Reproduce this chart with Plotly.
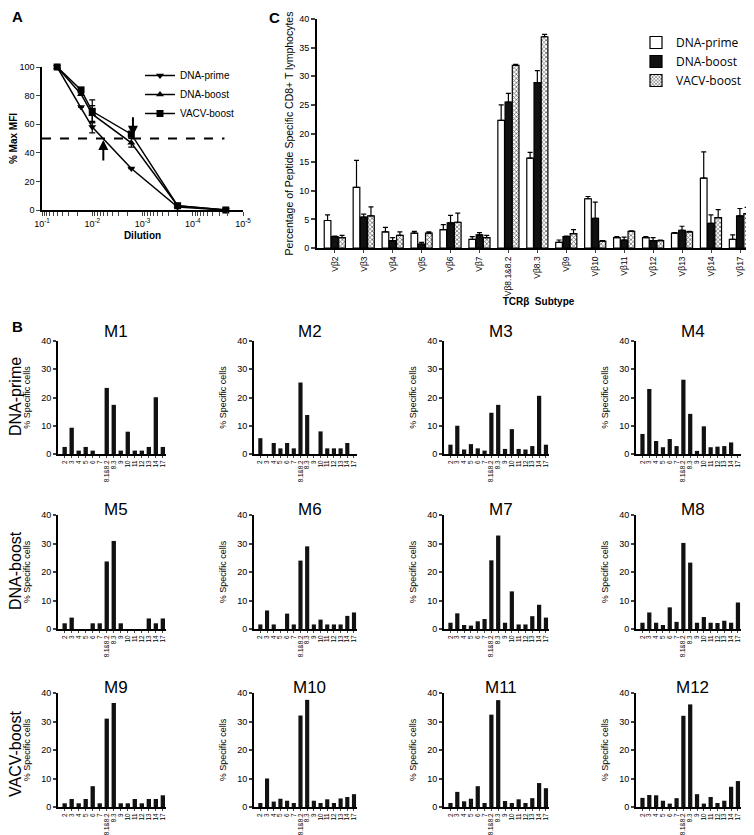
import plotly.graph_objects as go

W, H = 754, 835
FONT = "Liberation Sans"

# ---------------- Panel A data ----------------
dilution = [0.05, 0.0167, 0.01, 0.00167, 0.0002, 0.000022]
a_prime = [100, 72, 58, 29, 2, 0]
a_boost = [100, 81, 67, 47, 3, 0]
a_vacv = [100, 84, 69, 53, 3, 0]
a_prime_err = [0, 0, 4, 0, 0, 0]
a_boost_err = [0, 0, 6, 3, 0, 0]
a_vacv_err = [0, 0, 8, 2, 0, 0]
half_max_line_x = [0.1, 0.0000234]
half_max_line_y = [50, 50]
a_decades = [1, 2, 3, 4, 5]

# ---------------- Panel C data ----------------
c_categories = ["Vβ2", "Vβ3", "Vβ4", "Vβ5", "Vβ6", "Vβ7", "Vβ8.1&8.2", "Vβ8.3",
                "Vβ9", "Vβ10", "Vβ11", "Vβ12", "Vβ13", "Vβ14", "Vβ17"]
c_prime = [4.8, 10.6, 2.8, 2.6, 3.2, 1.5, 22.3, 15.7, 1.0, 8.6, 1.8, 1.8, 2.6, 12.2, 1.5]
c_prime_err = [1.0, 4.7, 0.8, 0.3, 0.9, 0.5, 2.7, 1.0, 0.4, 0.4, 0.2, 0.2, 0.1, 4.6, 0.8]
c_boost = [2.0, 5.4, 1.3, 0.7, 4.4, 2.3, 25.5, 28.9, 2.0, 5.2, 1.4, 1.3, 3.1, 4.3, 5.6]
c_boost_err = [0.1, 0.5, 0.5, 0.3, 1.3, 0.4, 1.5, 2.1, 0.1, 2.8, 0.5, 0.5, 0.7, 1.5, 1.3]
c_vacv = [1.8, 5.6, 2.2, 2.6, 4.5, 1.8, 31.9, 36.9, 2.5, 1.2, 2.9, 1.3, 2.8, 5.3, 6.0]
c_vacv_err = [0.4, 1.6, 0.6, 0.2, 1.6, 0.4, 0.2, 0.4, 0.7, 0.1, 0.1, 0.1, 0.1, 1.4, 1.1]

# ---------------- Panel B data ----------------
b_categories = ["2", "3", "4", "5", "6", "7", "8.1&8.2", "8.3", "9", "10", "11", "12", "13", "14", "17"]
M1 = [2.5, 9.3, 1.2, 2.5, 1.2, 0, 23.4, 17.4, 1.2, 7.9, 1.2, 1.2, 2.5, 20.1, 2.5]
M2 = [5.6, 0, 3.9, 2.0, 3.9, 2.0, 25.3, 13.8, 0, 8.0, 2.0, 2.0, 2.0, 3.9, 0]
M3 = [3.3, 10.0, 1.6, 3.5, 2.0, 1.2, 14.6, 17.4, 1.8, 8.8, 1.8, 1.6, 2.8, 20.6, 3.3]
M4 = [7.1, 23.0, 4.6, 2.4, 5.3, 2.8, 26.3, 14.2, 1.1, 9.8, 2.4, 2.6, 2.8, 4.1, 0]
M5 = [2.0, 4.0, 0, 0, 2.0, 2.0, 23.7, 30.9, 2.0, 0, 0, 0, 3.7, 2.0, 3.7]
M6 = [1.6, 6.5, 1.6, 0, 5.4, 1.6, 24.0, 29.0, 1.6, 3.3, 1.6, 1.6, 1.6, 4.6, 5.8]
M7 = [2.2, 5.5, 1.4, 1.2, 2.7, 3.5, 24.1, 32.8, 2.2, 13.2, 1.6, 1.6, 4.5, 8.5, 4.0]
M8 = [2.2, 5.8, 2.2, 1.4, 7.6, 2.5, 30.2, 23.3, 2.2, 4.2, 2.2, 2.1, 2.9, 2.2, 9.3]
M9 = [1.3, 2.8, 1.3, 2.8, 7.3, 1.3, 31.0, 36.5, 1.3, 1.3, 2.8, 1.3, 2.8, 2.8, 4.1]
M10 = [1.4, 10.0, 1.9, 2.9, 2.2, 1.4, 32.1, 37.6, 2.2, 1.4, 2.7, 1.4, 3.0, 3.5, 4.5]
M11 = [1.4, 5.3, 2.0, 2.9, 7.3, 1.4, 32.4, 37.5, 2.1, 1.4, 2.7, 1.4, 3.1, 8.4, 6.6]
M12 = [3.2, 4.2, 4.1, 2.2, 1.2, 3.1, 32.0, 36.0, 4.5, 1.2, 3.5, 1.4, 2.2, 7.1, 9.1]
b_panels = [M1, M2, M3, M4, M5, M6, M7, M8, M9, M10, M11, M12]
b_titles = ["M1", "M2", "M3", "M4", "M5", "M6", "M7", "M8", "M9", "M10", "M11", "M12"]
row_labels = ["DNA-prime", "DNA-boost", "VACV-boost"]


def xd(a, b):
    return [a / W, b / W]


def yd(top, bottom):
    return [1 - bottom / H, 1 - top / H]


fig = go.Figure()

# ---------- Panel A ----------
for name, vals, err, sym in [("DNA-prime", a_prime, a_prime_err, "triangle-down"),
                             ("DNA-boost", a_boost, a_boost_err, "triangle-up"),
                             ("VACV-boost", a_vacv, a_vacv_err, "square")]:
    fig.add_trace(go.Scatter(
        x=dilution, y=vals, name=name, mode="lines+markers",
        line=dict(color="black", width=1.5),
        marker=dict(symbol=sym, size=7, color="black"),
        error_y=dict(type="data", array=err, color="black", thickness=1.2, width=3),
        cliponaxis=False, xaxis="x", yaxis="y", legend="legend"))
fig.add_trace(go.Scatter(x=half_max_line_x, y=half_max_line_y, mode="lines",
                         line=dict(color="black", width=2, dash="dash"),
                         showlegend=False, xaxis="x", yaxis="y", hoverinfo="skip"))

# ---------- Panel C ----------
fig.add_trace(go.Bar(x=c_categories, y=c_prime, name="DNA-prime", width=0.23, offset=-0.37,
                     marker=dict(color="white", line=dict(color="black", width=1.2)),
                     error_y=dict(type="data", array=c_prime_err, arrayminus=[0] * 15,
                                  symmetric=False, color="black", thickness=1.2, width=2.5),
                     xaxis="x2", yaxis="y2", legend="legend2"))
fig.add_trace(go.Bar(x=c_categories, y=c_boost, name="DNA-boost", width=0.23, offset=-0.12,
                     marker=dict(color="#111111", line=dict(color="black", width=1.2)),
                     error_y=dict(type="data", array=c_boost_err, arrayminus=[0] * 15,
                                  symmetric=False, color="black", thickness=1.2, width=2.5),
                     xaxis="x2", yaxis="y2", legend="legend2"))
fig.add_trace(go.Bar(x=c_categories, y=c_vacv, name="VACV-boost", width=0.23, offset=0.13,
                     marker=dict(color="white", line=dict(color="black", width=1.2),
                                 pattern=dict(shape="x", fgcolor="#555555", bgcolor="white",
                                              size=3, solidity=0.4)),
                     error_y=dict(type="data", array=c_vacv_err, arrayminus=[0] * 15,
                                  symmetric=False, color="black", thickness=1.2, width=2.5),
                     xaxis="x2", yaxis="y2", legend="legend2"))

# ---------- Panel B ----------
col_px = [(50, 158), (246, 349), (436, 541), (628, 733)]
row_px = [(333, 446), (507, 621), (685, 799)]
title_off = [10, 6, 6]
for i, vals in enumerate(b_panels):
    n = i + 3
    fig.add_trace(go.Bar(x=b_categories, y=vals, width=0.62,
                         marker=dict(color="#111111", line=dict(width=0)),
                         showlegend=False, xaxis=f"x{n}", yaxis=f"y{n}"))

layout = dict(
    template="none",
    width=W, height=H, margin=dict(l=0, r=0, t=0, b=0, pad=0),
    paper_bgcolor="white", plot_bgcolor="white",
    font=dict(family=FONT, color="black"),
    barmode="overlay",
)

# log dilution axis ticks: labelled decades plus unlabelled 2..9 sub-ticks
a_tickvals, a_ticktext = [], []
for d in a_decades:
    a_tickvals.append(10.0 ** (-d))
    a_ticktext.append(f"10<sup>-{d}</sup>")
    if d < a_decades[-1]:
        for k in range(9, 1, -1):
            a_tickvals.append(k * 10.0 ** (-d - 1))
            a_ticktext.append("")

# axis A
layout["xaxis"] = dict(domain=xd(34, 235), type="log", range=[-1, -5], anchor="y",
                       automargin=False, tickmode="array", tickvals=a_tickvals,
                       ticktext=a_ticktext,
                       ticks="outside", ticklen=4, tickwidth=1,
                       showline=True, linewidth=1.5, linecolor="black", showgrid=False,
                       zeroline=False, tickfont=dict(size=9, family=FONT),
                       title=dict(text="<b>Dilution</b>", font=dict(size=10), standoff=4))
layout["yaxis"] = dict(domain=yd(59, 202), range=[0, 100], anchor="x", automargin=False,
                       tickvals=[0, 20, 40, 60, 80, 100],
                       ticks="outside", ticklen=4, tickwidth=1.2,
                       showline=True, linewidth=1.5, linecolor="black", showgrid=False,
                       zeroline=False, tickfont=dict(size=9, family=FONT),
                       title=dict(text="<b>% Max MFI</b>", font=dict(size=10), standoff=4))

# axis C
layout["xaxis2"] = dict(domain=xd(309, 752), type="category", range=[-0.62, 14.69], anchor="y2",
                        automargin=False, tickmode="array", tickvals=c_categories,
                        ticktext=c_categories,
                        ticks="outside", ticklen=3, tickwidth=1.2, tickangle=-90,
                        showline=True, linewidth=2, linecolor="black", showgrid=False,
                        tickfont=dict(size=8.5, family=FONT),
                        title=dict(text="<b>TCRβ  Subtype</b>", font=dict(size=10), standoff=3))
layout["yaxis2"] = dict(domain=yd(11, 240), range=[0, 40], anchor="x2", automargin=False,
                        tickvals=[0, 5, 10, 15, 20, 25, 30, 35, 40],
                        ticks="outside", ticklen=4, tickwidth=1.5,
                        showline=True, linewidth=2, linecolor="black", showgrid=False,
                        zeroline=False, tickfont=dict(size=9, family=FONT),
                        title=dict(text="Percentage of Peptide Specific CD8+ T lymphocytes",
                                   font=dict(size=10.5), standoff=4))

annotations = []
for i in range(12):
    n = i + 3
    r, c = divmod(i, 4)
    x0, x1 = col_px[c]
    t, b = row_px[r]
    layout[f"xaxis{n}"] = dict(domain=xd(x0, x1), type="category", range=[-0.95, 14.45],
                               anchor=f"y{n}", automargin=False,
                               tickmode="array", tickvals=b_categories, ticktext=b_categories,
                               ticks="outside", ticklen=2, tickwidth=1,
                               tickangle=-90, showline=True, linewidth=2, linecolor="black",
                               showgrid=False, tickfont=dict(size=6.3, family=FONT))
    layout[f"yaxis{n}"] = dict(domain=yd(t, b), range=[0, 40], anchor=f"x{n}",
                               automargin=False,
                               tickvals=[0, 10, 20, 30, 40], ticks="outside", ticklen=3,
                               tickwidth=1.5, showline=True, linewidth=2, linecolor="black",
                               showgrid=False, zeroline=False,
                               tickfont=dict(size=9, family=FONT),
                               title=dict(text="% Specific cells", font=dict(size=9), standoff=9))
    annotations.append(dict(text=b_titles[i], x=((x0 + x1) / 2 + 4) / W,
                            y=1 - (t - title_off[r]) / H,
                            xref="paper", yref="paper", showarrow=False,
                            font=dict(size=17, family=FONT), xanchor="center", yanchor="middle"))

row_centers = [389, 563, 746]
for lbl, cy in zip(row_labels, row_centers):
    annotations.append(dict(text=lbl, x=7 / W, y=1 - cy / H, xref="paper", yref="paper",
                            showarrow=False, textangle=-90, font=dict(size=16, family=FONT),
                            xanchor="center", yanchor="middle"))

for lbl, px, py in [("A", 9, 9), ("C", 266, 10), ("B", 9, 318)]:
    annotations.append(dict(text=f"<b>{lbl}</b>", x=px / W, y=1 - py / H, xref="paper",
                            yref="paper", showarrow=False, font=dict(size=15, family=FONT),
                            xanchor="center", yanchor="middle"))

# arrows in panel A (log axis: x in log10 units)
annotations.append(dict(x=-2.22, y=49, xref="x", yref="y", ax=0, ay=22, showarrow=True,
                        arrowhead=2, arrowsize=1, arrowwidth=2, arrowcolor="black", text=""))
annotations.append(dict(x=-2.81, y=52, xref="x", yref="y", ax=0, ay=-20, showarrow=True,
                        arrowhead=2, arrowsize=1, arrowwidth=2, arrowcolor="black", text=""))

layout["annotations"] = annotations
layout["legend"] = dict(x=132 / W, y=1 - 53 / H, xanchor="left", yanchor="top",
                        font=dict(size=10, family=FONT), bgcolor="rgba(0,0,0,0)",
                        itemwidth=30, tracegroupgap=0)
layout["legend2"] = dict(x=628 / W, y=1 - 20 / H, xanchor="left", yanchor="top",
                         font=dict(size=12, family="Open Sans"), bgcolor="rgba(0,0,0,0)",
                         itemwidth=30, tracegroupgap=0)

fig.update_layout(**layout)
fig.write_html("out.html")
